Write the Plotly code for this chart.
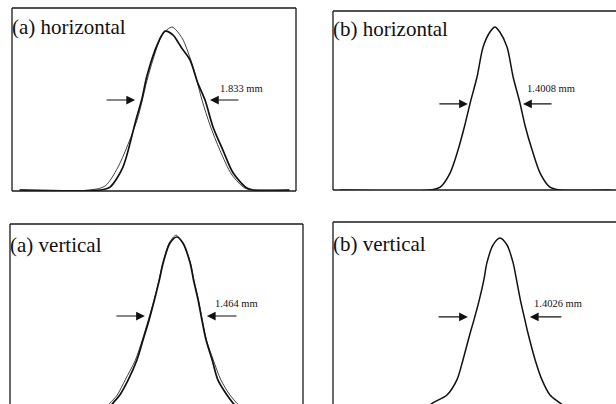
import plotly.graph_objects as go

# ---------------- data (position in mm, normalized intensity) ----------------
# (a) horizontal: measured profile (thick) and fitted profile (thin)
ah_meas_x = [0.2, 2.32, 2.58, 2.92, 3.26, 3.42, 3.55, 3.84, 4.03, 4.24, 4.39, 4.47, 4.68, 4.89, 5.08, 5.29, 5.55, 5.82, 6.18, 6.34, 7.3]
ah_meas_y = [0.0, 0.0, 0.018, 0.141, 0.429, 0.56, 0.70, 0.902, 0.975, 0.951, 0.90, 0.87, 0.80, 0.656, 0.552, 0.387, 0.245, 0.104, 0.012, 0.0, 0.0]
ah_fit_x = [0.2, 2.05, 2.45, 2.79, 3.29, 3.55, 3.71, 3.95, 4.21, 4.47, 4.61, 4.79, 5.0, 5.21, 5.47, 5.79, 6.13, 6.39, 7.3]
ah_fit_y = [0.0, 0.0, 0.025, 0.141, 0.429, 0.67, 0.80, 0.95, 1.0, 0.935, 0.86, 0.736, 0.552, 0.399, 0.245, 0.092, 0.012, 0.0, 0.0]

# (b) horizontal
bh_x = [0.2, 2.55, 2.82, 3.08, 3.29, 3.47, 3.61, 3.79, 3.95, 4.13, 4.26, 4.39, 4.58, 4.74, 4.92, 5.05, 5.24, 5.45, 5.71, 5.97, 7.3]
bh_y = [0.0, 0.0, 0.018, 0.104, 0.245, 0.399, 0.534, 0.693, 0.877, 0.969, 1.0, 0.969, 0.877, 0.693, 0.534, 0.399, 0.245, 0.104, 0.018, 0.0, 0.0]

# (a) vertical: measured (thick) and fitted (thin)
av_meas_x = [2.45, 2.71, 2.89, 3.11, 3.34, 3.50, 3.66, 3.80, 3.93, 4.03, 4.21, 4.39, 4.55, 4.74, 4.83, 4.95, 5.05, 5.16, 5.32, 5.47, 5.71, 5.87, 6.2]
av_meas_y = [0.0, 0.067, 0.112, 0.197, 0.309, 0.421, 0.534, 0.646, 0.758, 0.854, 0.966, 1.0, 0.966, 0.854, 0.758, 0.646, 0.534, 0.421, 0.309, 0.197, 0.112, 0.067, 0.0]
av_fit_x = [2.35, 2.63, 2.82, 3.03, 3.30, 3.48, 3.64, 3.79, 3.92, 4.02, 4.19, 4.37, 4.55, 4.75, 4.84, 4.96, 5.06, 5.17, 5.35, 5.55, 5.79, 5.97, 6.3]
av_fit_y = [0.0, 0.067, 0.112, 0.197, 0.309, 0.421, 0.534, 0.646, 0.758, 0.854, 0.966, 1.01, 0.966, 0.854, 0.758, 0.646, 0.534, 0.421, 0.309, 0.197, 0.112, 0.067, 0.0]

# (b) vertical
bv_x = [2.2, 2.63, 3.0, 3.26, 3.42, 3.61, 3.71, 3.85, 3.97, 4.05, 4.21, 4.39, 4.58, 4.74, 4.83, 4.93, 5.05, 5.13, 5.32, 5.5, 5.71, 5.97, 6.4]
bv_y = [0.0, 0.068, 0.113, 0.198, 0.311, 0.463, 0.537, 0.65, 0.763, 0.859, 0.96, 1.0, 0.96, 0.859, 0.763, 0.65, 0.537, 0.463, 0.311, 0.198, 0.113, 0.068, 0.0]

panel_titles = ["(a) horizontal", "(b) horizontal", "(a) vertical", "(b) vertical"]
fwhm_labels = ["1.833 mm", "1.4008 mm", "1.464 mm", "1.4026 mm"]
# arrow level, left arrow tail/tip, right arrow tail/tip, label position
arrow_level = [0.552, 0.528, 0.556, 0.554]
left_arrow = [(2.45, 3.24), (2.76, 3.55), (2.76, 3.55), (2.74, 3.55)]
right_arrow = [(6.0, 5.21), (5.79, 5.0), (6.0, 5.18), (6.05, 5.18)]
label_pos = [(6.03, 0.62), (5.74, 0.62), (5.97, 0.625), (5.92, 0.628)]

# ---------------- figure ----------------
W, H = 616, 404
fig = go.Figure()

SERIF = "Liberation Serif, Times New Roman, serif"
INK = "#111111"

def add_line(x, y, xa, ya, width):
    fig.add_trace(go.Scatter(x=x, y=y, mode="lines", xaxis=xa, yaxis=ya,
                             line=dict(color=INK, width=width, shape="spline", smoothing=0.8),
                             hoverinfo="skip", showlegend=False))

add_line(ah_fit_x, ah_fit_y, "x", "y", 0.8)
add_line(ah_meas_x, ah_meas_y, "x", "y", 1.7)
add_line(bh_x, bh_y, "x2", "y2", 1.5)
add_line(av_fit_x, av_fit_y, "x3", "y3", 0.8)
add_line(av_meas_x, av_meas_y, "x3", "y3", 1.7)
add_line(bv_x, bv_y, "x4", "y4", 1.5)

# axis domains (paper fractions) and ranges
panels = [
    dict(xd=[12 / W, 296 / W], yd=[1 - 191 / H, 1 - 8 / H], xr=[0, 284 / 38], yr=[-0.006, 1.117]),
    dict(xd=[333 / W, 1.0], yd=[1 - 190 / H, 1 - 11 / H], xr=[0, 283 / 38], yr=[0.0, 1.098]),
    dict(xd=[10 / W, 303 / W], yd=[0.0, 1 - 224 / H], xr=[0, 293 / 38], yr=[0.062, 1.073]),
    dict(xd=[333 / W, 1.0], yd=[0.0, 1 - 222 / H], xr=[0, 283 / 38], yr=[0.062, 1.090]),
]
axis_common = dict(showticklabels=False, showgrid=False, zeroline=False, showline=False, ticks="", fixedrange=True)
layout_axes = {}
for i, p in enumerate(panels):
    s = "" if i == 0 else str(i + 1)
    layout_axes["xaxis" + s] = dict(domain=p["xd"], range=p["xr"], anchor="y" + s, **axis_common)
    layout_axes["yaxis" + s] = dict(domain=p["yd"], range=p["yr"], anchor="x" + s, **axis_common)
fig.update_layout(**layout_axes)

# panel borders (sides that are visible in the picture)
sides = [
    ["top", "bottom", "left", "right"],
    ["top", "bottom", "left"],
    ["top", "left", "right"],
    ["top", "left"],
]
shapes = []
for i, ss in enumerate(sides):
    s = "" if i == 0 else str(i + 1)
    xr, yr = "x" + s + " domain", "y" + s + " domain"
    seg = {"top": (0, 1, 1, 1), "bottom": (0, 0, 1, 0), "left": (0, 0, 0, 1), "right": (1, 0, 1, 1)}
    for side in ss:
        x0, y0, x1, y1 = seg[side]
        shapes.append(dict(type="line", xref=xr, yref=yr, x0=x0, y0=y0, x1=x1, y1=y1,
                           line=dict(color="#1a1a1a", width=1.3)))
fig.update_layout(shapes=shapes)

# annotations: titles, arrows, FWHM labels
title_y = [0.896, 0.899, 0.883, 0.879]
ann = []
for i in range(4):
    s = "" if i == 0 else str(i + 1)
    xa, ya = "x" + s, "y" + s
    ann.append(dict(text=panel_titles[i], xref=xa + " domain", yref=ya + " domain", x=0, y=title_y[i],
                    xanchor="left", yanchor="middle", showarrow=False, xshift=-2,
                    font=dict(family=SERIF, size=21, color=INK)))
    lvl = arrow_level[i]
    for tail, tip in (left_arrow[i], right_arrow[i]):
        ann.append(dict(text="", x=tip, y=lvl, ax=tail, ay=lvl, xref=xa, yref=ya, axref=xa, ayref=ya,
                        showarrow=True, arrowhead=2, arrowsize=1.6, arrowwidth=1.1, arrowcolor=INK,
                        standoff=0, startstandoff=0))
    lx, ly = label_pos[i]
    ann.append(dict(text=fwhm_labels[i], x=lx, y=ly, xref=xa, yref=ya, showarrow=False,
                    xanchor="center", yanchor="middle", font=dict(family=SERIF, size=10.5, color=INK)))
fig.update_layout(annotations=ann)

fig.update_layout(width=W, height=H, margin=dict(l=0, r=0, t=0, b=0),
                  paper_bgcolor="white", plot_bgcolor="white")

fig.write_html("out.html", config={"displayModeBar": False, "staticPlot": True},
               post_script="document.body.style.margin='0';document.body.style.overflow='hidden';")
